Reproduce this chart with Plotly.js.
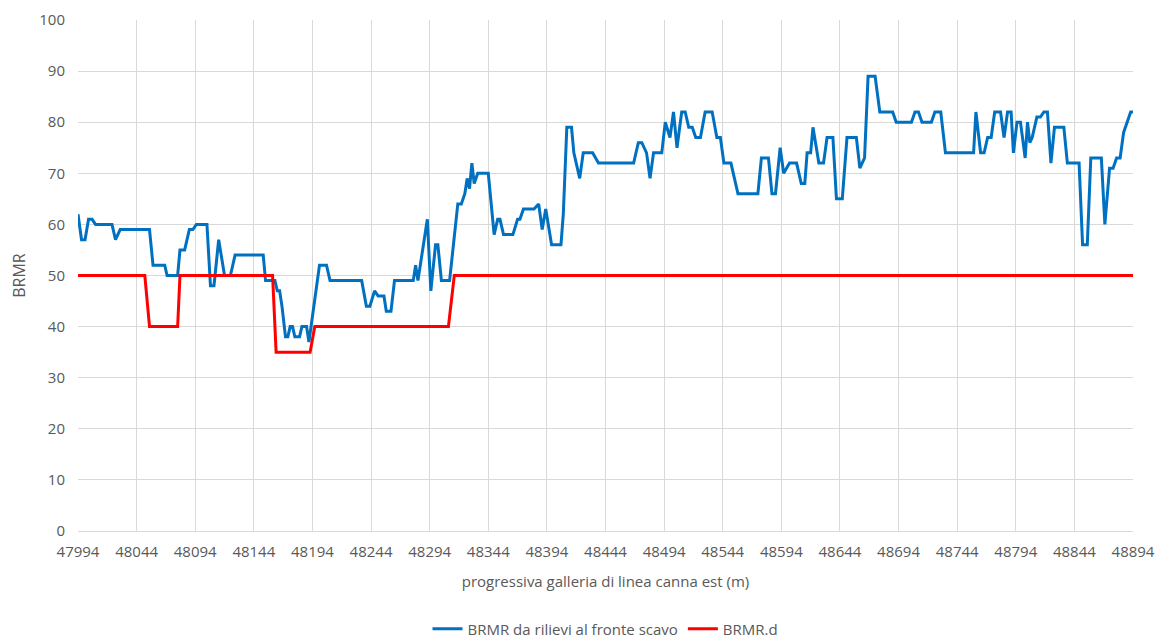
<!DOCTYPE html>
<html>
<head>
<meta charset="utf-8">
<script src="https://cdn.plot.ly/plotly-3.0.1.min.js"></script>
<style>html,body{margin:0;padding:0;background:#fff;}#chart{width:1161px;height:640px;}</style>
</head>
<body>
<div id="chart"></div>
<script>
// Blue series: BRMR da rilievi al fronte scavo
const blueX = [47994,47997,48000,48003,48006,48009,48023,48026,48030,48055,48058,48068,48070,48079,48081,48085,48089,48092,48095,48104,48107,48110,48114,48119,48124,48128,48152,48154,48162,48164,48166,48168,48171,48173,48175,48177,48179,48183,48185,48189,48191,48200,48206,48209,48236,48240,48243,48247,48250,48255,48257,48261,48264,48280,48282,48284,48292,48295,48299,48301,48304,48311,48318,48321,48324,48326,48328,48330,48332,48335,48344,48349,48352,48354,48357,48365,48369,48371,48374,48383,48387,48390,48393,48398,48406,48408,48411,48415,48417,48422,48425,48433,48438,48468,48472,48475,48479,48482,48485,48492,48495,48499,48502,48505,48509,48512,48515,48518,48521,48525,48529,48535,48539,48542,48545,48551,48557,48574,48577,48583,48586,48589,48593,48596,48601,48607,48611,48614,48616,48619,48621,48626,48630,48633,48638,48641,48646,48650,48658,48661,48665,48668,48674,48678,48689,48692,48705,48708,48711,48714,48722,48725,48730,48734,48758,48760,48764,48767,48770,48773,48776,48781,48784,48787,48790,48792,48795,48798,48802,48804,48806,48808,48812,48815,48818,48821,48824,48827,48835,48838,48848,48851,48855,48858,48867,48870,48874,48877,48880,48883,48886,48892,48894];
const blueY = [62,57,57,61,61,60,60,57,59,59,52,52,50,50,55,55,59,59,60,60,48,48,57,50,50,54,54,49,49,47,47,44,38,38,40,40,38,38,40,40,37,52,52,49,49,44,44,47,46,46,43,43,49,49,52,49,61,47,56,56,49,49,64,64,66,69,67,72,68,70,70,58,61,61,58,58,61,61,63,63,64,59,63,56,56,62,79,79,74,69,74,74,72,72,76,76,74,69,74,74,80,77,82,75,82,82,79,79,77,77,82,82,77,77,72,72,66,66,73,73,66,66,75,70,72,72,68,68,74,74,79,72,72,77,77,65,65,77,77,71,73,89,89,82,82,80,80,82,82,80,80,82,82,74,74,82,74,74,77,77,82,82,77,82,82,74,80,80,73,80,76,77,81,81,82,82,72,79,79,72,72,56,56,73,73,60,71,71,73,73,78,82,82];

// Red series: BRMR.d
const redX = [47994,48051,48055,48079,48081,48160,48163,48192,48196,48310,48315,48894];
const redY = [50,50,40,40,50,50,35,35,40,40,50,50];

const xTicks = [47994,48044,48094,48144,48194,48244,48294,48344,48394,48444,48494,48544,48594,48644,48694,48744,48794,48844,48894];
const yTicks = [0,10,20,30,40,50,60,70,80,90,100];

const seriesNames = ["BRMR da rilievi al fronte scavo", "BRMR.d"];
const xTitle = "progressiva galleria di linea canna est (m)";
const yTitle = "BRMR";

const font = "'Open Sans', Lato, sans-serif";
const grey = "#595959";

const traces = [
  {x: blueX, y: blueY, name: seriesNames[0], mode: "lines", type: "scatter",
   line: {color: "#0070C0", width: 3}},
  {x: redX, y: redY, name: seriesNames[1], mode: "lines", type: "scatter",
   line: {color: "#FF0000", width: 3}}
];

const layout = {
  width: 1161, height: 640,
  margin: {l: 78, r: 28, t: 20, b: 109, autoexpand: false},
  paper_bgcolor: "#fff", plot_bgcolor: "#fff",
  font: {family: font, size: 14, color: grey},
  showlegend: true,
  legend: {orientation: "h", x: 0.5, xanchor: "center", y: -0.192, yanchor: "middle",
           font: {family: font, size: 15, color: grey}},
  xaxis: {
    range: [47994, 48894], tickvals: xTicks, ticktext: xTicks.map(String),
    showgrid: true, gridcolor: "#d9d9d9", gridwidth: 1,
    zeroline: false, showline: true, linecolor: "#d9d9d9", linewidth: 1,
    ticks: "", ticklabelstandoff: 7,
    tickfont: {family: font, size: 15, color: grey},
    title: {text: xTitle, font: {family: font, size: 15, color: grey}, standoff: 16}
  },
  yaxis: {
    range: [0, 100], tickvals: yTicks,
    showgrid: true, gridcolor: "#d9d9d9", gridwidth: 1,
    zeroline: false, showline: false, ticks: "", ticklabelstandoff: 12,
    tickfont: {family: font, size: 15, color: grey},
    title: {text: yTitle, font: {family: font, size: 16, color: grey}, standoff: 9}
  }
};

Plotly.newPlot("chart", traces, layout, {displayModeBar: false, staticPlot: true});
</script>
</body>
</html>
